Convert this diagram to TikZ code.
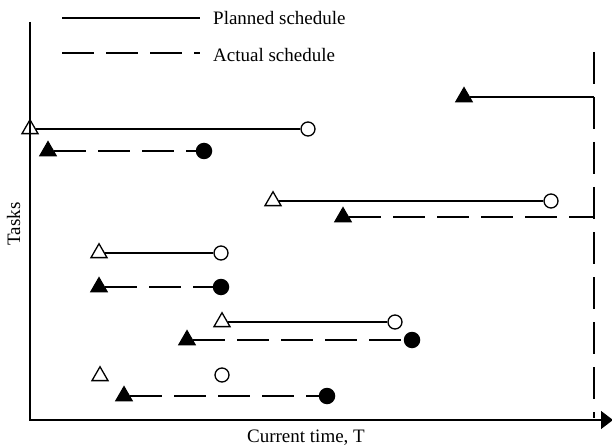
\documentclass[tikz,border=0pt]{standalone}
\usepackage{fontspec}
\setmainfont{Liberation Serif}
\usetikzlibrary{arrows.meta,positioning,shapes.geometric}
\begin{document}
\begin{tikzpicture}[x=1pt,y=-1pt,every node/.style={font=\fontsize{19}{23}\selectfont},
 lw/.style={line width=1.1pt},
 plan/.style={lw},
 act/.style={lw,dash pattern=on 32pt off 12pt},
 ot/.style={regular polygon,regular polygon sides=3,draw,line width=1.3pt,minimum size=18.5pt,inner sep=0pt},
 ft/.style={ot,fill=black},
 oc/.style={circle,draw,line width=1.3pt,minimum size=14pt,inner sep=0pt},
 fc/.style={circle,fill=black,minimum size=16.5pt,inner sep=0pt}]
\useasboundingbox (0,0) rectangle (612,446);
\coordinate (ytop) at (30,22);
\coordinate (xend) at (613,420);
\draw[lw,-{Triangle[length=12pt,width=18pt]}] (ytop) |- (xend);
\coordinate (ctop) at (594,52);
\coordinate (cbot) at (594,418);
\draw[lw,dash pattern=on 32pt off 13pt] (ctop) -- (cbot);
\node[anchor=west,inner sep=0pt] (lg1) at (213,18) {Planned schedule};
\node[anchor=west,inner sep=0pt] (lg2) at (213,55) {Actual schedule};
\coordinate (lg1s) at (62,18);
\coordinate (lg2s) at (62,53);
\draw[plan] (lg1s) -- ([xshift=-13pt]lg1.west);
\draw[act] (lg2s) -- ([xshift=-13pt]lg2.west |- lg2s);
\node[anchor=base] (xl) at (306,442) {Current time, T};
\node[rotate=90,anchor=base] (yl) at (20,224) {Tasks};
\node[ot] (p1s) at (30,129) {};
\node[oc] (p1e) at (308,129) {};
\node[ft] (a1s) at (48,151) {};
\node[fc] (a1e) at (204,151) {};
\node[ft] (a2s) at (464,97) {};
\coordinate (a2e) at (ctop |- a2s);
\node[ot] (p2s) at (273,201) {};
\node[oc] (p2e) at (551,201) {};
\node[ft] (a3s) at (343,217) {};
\coordinate (a3e) at (ctop |- a3s);
\node[ot] (p3s) at (99,253) {};
\node[oc] (p3e) at (221,253) {};
\node[ft] (a4s) at (99,287) {};
\node[fc] (a4e) at (221,287) {};
\node[ot] (p4s) at (222,322) {};
\node[oc] (p4e) at (395,322) {};
\node[ft] (a5s) at (187,340) {};
\node[fc] (a5e) at (412,340) {};
\node[ot] (p5s) at (100,376) {};
\node[oc] (p5e) at (222,375) {};
\node[ft] (a6s) at (124,396) {};
\node[fc] (a6e) at (327,396) {};
\draw[plan](p1s)--(p1e);\draw[plan](p2s)--(p2e);\draw[plan](p3s)--(p3e);\draw[plan](p4s)--(p4e);
\draw[act](a1s)--(a1e);\draw[plan](a2s)--(a2e);\draw[act](a3s)--(a3e);
\draw[act](a4s)--(a4e);\draw[act](a5s)--(a5e);\draw[act](a6s)--(a6e);
\end{tikzpicture}
\end{document}
